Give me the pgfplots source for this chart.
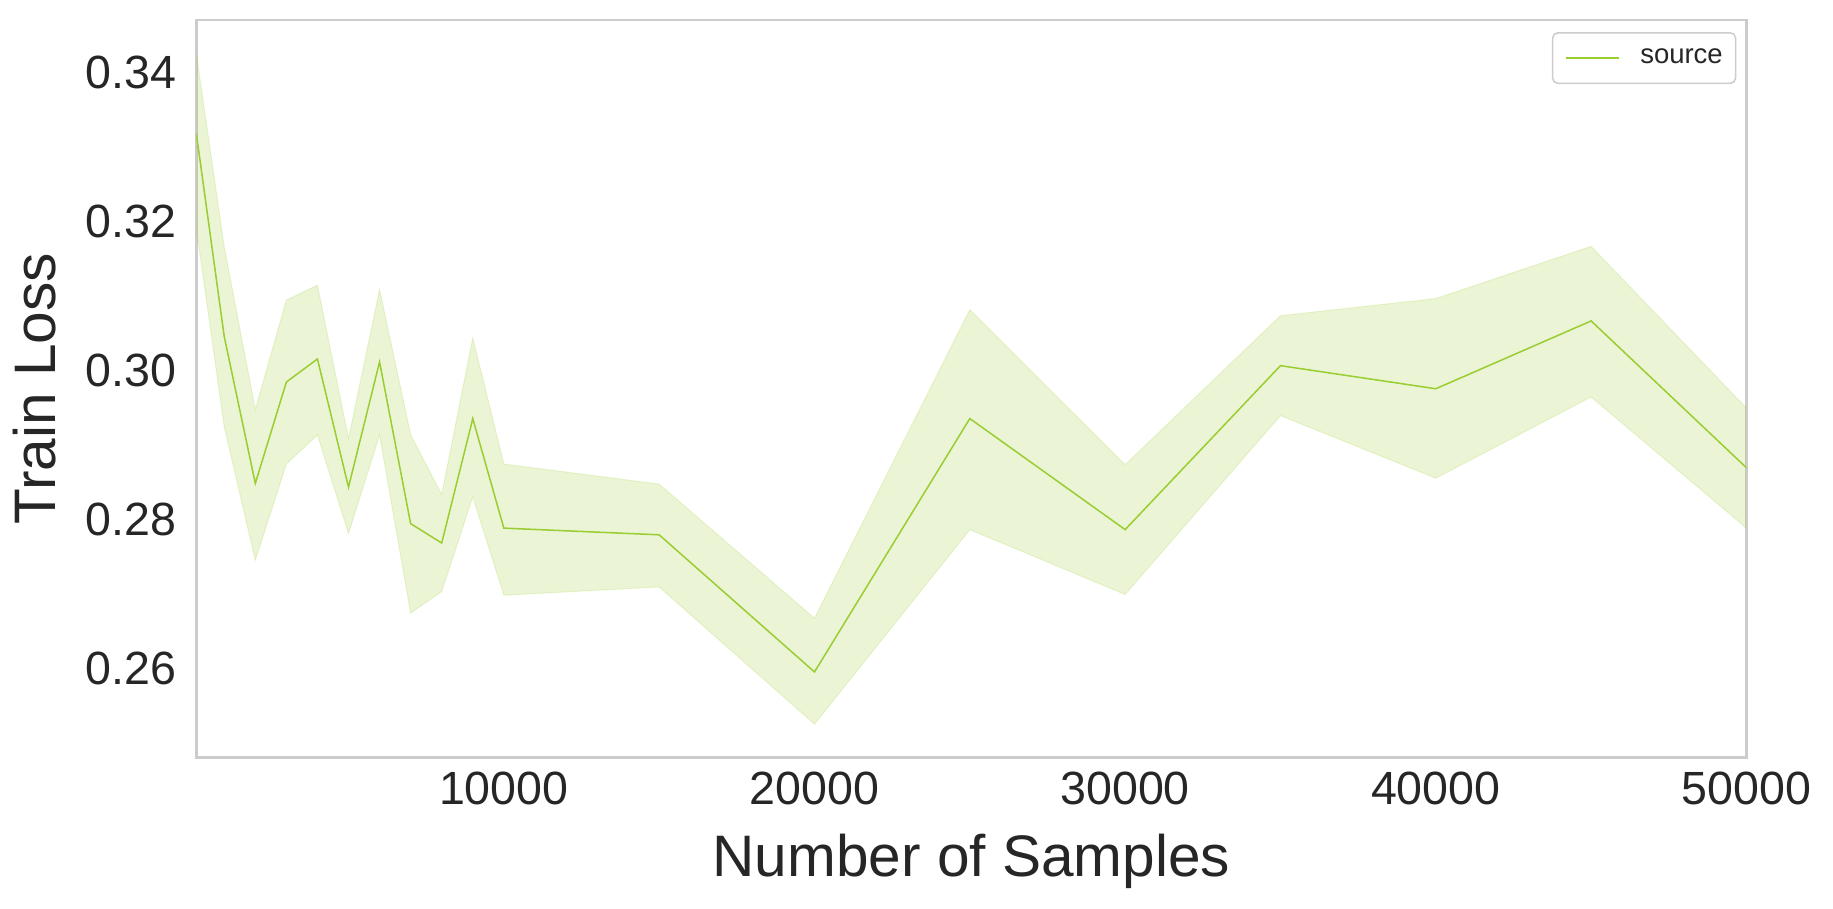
\documentclass[border=0pt]{standalone}
\usepackage{fontspec}
\setmainfont{Liberation Sans}
\usepackage{pgfplots}
\pgfplotsset{compat=1.18}
\usepgfplotslibrary{fillbetween}

\definecolor{srcgreen}{HTML}{9ACD32}
\definecolor{spine}{HTML}{CCCCCC}
\definecolor{txt}{HTML}{262626}

% x, mean, upper and lower edge of the band
\pgfplotstableread{
x      m       hi      lo
100    0.3318  0.3425  0.3191
1000   0.3045  0.3165  0.2924
2000   0.2848  0.2947  0.2745
3000   0.2984  0.3094  0.2874
4000   0.3015  0.3114  0.2913
5000   0.2843  0.2908  0.2781
6000   0.3011  0.3108  0.2913
7000   0.2794  0.2913  0.2674
8000   0.2768  0.2833  0.2703
9000   0.2935  0.3043  0.2830
10000  0.2788  0.2874  0.2698
15000  0.2779  0.2847  0.2709
20000  0.2595  0.2667  0.2525
25000  0.2935  0.3081  0.2786
30000  0.2786  0.2873  0.2699
35000  0.3006  0.3073  0.2939
40000  0.2975  0.3096  0.2855
45000  0.3066  0.3166  0.2964
50000  0.2869  0.2949  0.2788
}\loss

\begin{document}
\begin{tikzpicture}
\begin{axis}[
    at={(0,0)}, anchor=south west,
    scale only axis,
    width=608.9pt, height=289.8pt,
    xmin=100, xmax=50000,
    ymin=0.2480, ymax=0.3470,
    xtick={10000,20000,30000,40000,50000},
    ytick={0.26,0.28,0.30,0.32,0.34},
    scaled ticks=false,
    major tick length=0pt,
    axis line style={spine, line width=1pt},
    /pgf/number format/assume math mode=true,
    xticklabel style={/pgf/number format/set thousands separator={}, yshift=-2pt},
    yticklabel style={/pgf/number format/fixed, /pgf/number format/fixed zerofill,
        /pgf/number format/precision=2, xshift=-4.4pt},
    tick label style={font=\fontsize{18.3}{22}\selectfont, text=txt},
    xlabel={Number of Samples},
    ylabel={Train Loss},
    label style={font=\fontsize{23}{27}\selectfont, text=txt},
    xlabel style={at={(axis description cs:0.5,-0.1404)}, anchor=center},
    ylabel style={at={(axis description cs:-0.104,0.5)}, anchor=center},
    legend style={
        at={(1,1)}, anchor=north east, xshift=-4pt, yshift=-4.8pt,
        draw=spine, line width=0.6pt, rounded corners=2pt,
        font=\fontsize{10.8}{13}\selectfont, text=txt,
        inner xsep=3pt, inner ysep=4.25pt,
        /tikz/every odd column/.append style={column sep=6pt}
    },
    legend image code/.code={\path (0pt,0pt); \draw[#1] (1.8pt,0pt) -- (22.8pt,0pt);},
]
\addplot[name path=hi, draw=srcgreen, draw opacity=0.2, forget plot] table[x=x, y=hi] {\loss};
\addplot[name path=lo, draw=srcgreen, draw opacity=0.2, forget plot] table[x=x, y=lo] {\loss};
\addplot[srcgreen, fill opacity=0.2, draw=none, forget plot] fill between[of=hi and lo];
\addplot[srcgreen, line width=0.6pt] table[x=x, y=m] {\loss};
\addlegendentry{source}
\end{axis}
\pgfresetboundingbox
\path[use as bounding box] (-77.1pt,-59.1pt) rectangle ++(720pt,356.7pt);
\end{tikzpicture}
\end{document}
